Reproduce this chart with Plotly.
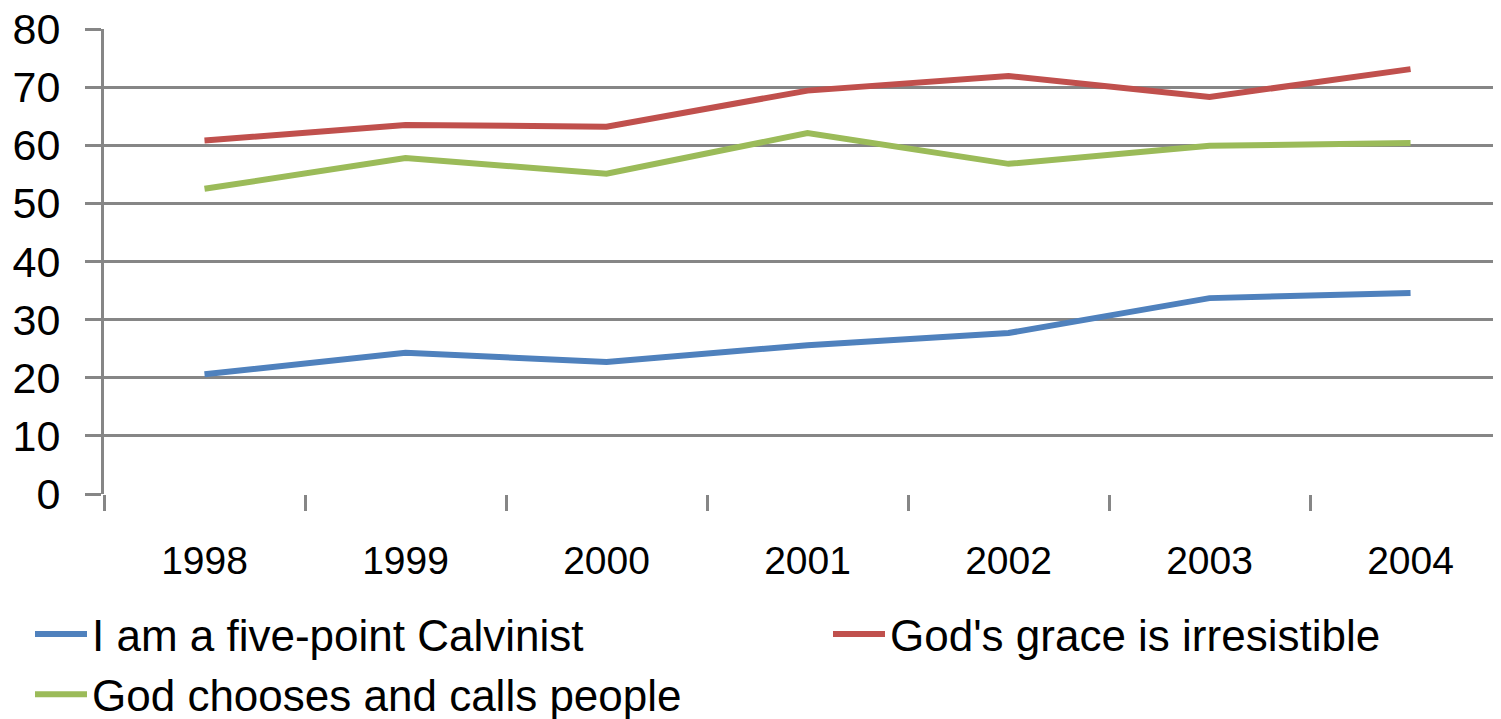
import plotly.graph_objects as go

years = ["1998", "1999", "2000", "2001", "2002", "2003", "2004"]
calvinist = [20.6, 24.3, 22.7, 25.6, 27.7, 33.7, 34.6]
grace = [60.8, 63.5, 63.2, 69.4, 71.9, 68.3, 73.1]
chooses = [52.5, 57.8, 55.1, 62.1, 56.8, 59.9, 60.4]

names = ["I am a five-point Calvinist", "God's grace is irresistible", "God chooses and calls people"]
colors = ["#4F81BD", "#C0504D", "#9BBB59"]
series = [calvinist, grace, chooses]
legend_ids = ["legend", "legend2", "legend"]

fig = go.Figure()
for name, vals, col, lg in zip(names, series, colors, legend_ids):
    fig.add_trace(go.Scatter(x=years, y=vals, name=name, mode="lines",
                             line=dict(color=col, width=6), legend=lg))

FONT = "Liberation Sans"
W, H = 1493, 711
leg_common = dict(orientation="v", xref="container", yref="container",
                  yanchor="top", xanchor="left",
                  font=dict(size=44, family=FONT, color="black"),
                  itemwidth=52, tracegroupgap=0, bgcolor="rgba(0,0,0,0)")
fig.update_layout(
    width=W, height=H,
    margin=dict(l=96, r=0, t=21, b=225, autoexpand=False),
    plot_bgcolor="white", paper_bgcolor="white",
    font=dict(family=FONT, color="black"),
    showlegend=True,
    legend=dict(x=22 / W, y=1 - 591 / H, **leg_common),
    legend2=dict(x=820 / W, y=1 - 591 / H, **leg_common),
    xaxis=dict(type="category", range=[-0.5, 6.45], tickson="boundaries",
               showgrid=False, showline=False, ticks="outside", ticklen=16,
               tickwidth=3, tickcolor="#868686",
               tickfont=dict(size=39, family=FONT, color="black"),
               ticklabelstandoff=40, zeroline=False),
    yaxis=dict(range=[0, 80], dtick=10, showgrid=True, gridcolor="#868686", gridwidth=3,
               showline=True, linecolor="#868686", linewidth=3,
               ticks="outside", ticklen=16, tickwidth=3, tickcolor="#868686",
               tickfont=dict(size=43, family=FONT, color="black"),
               ticklabelstandoff=16, ticklabeloverflow="allow", zeroline=False),
)

fig.write_html("out.html")
